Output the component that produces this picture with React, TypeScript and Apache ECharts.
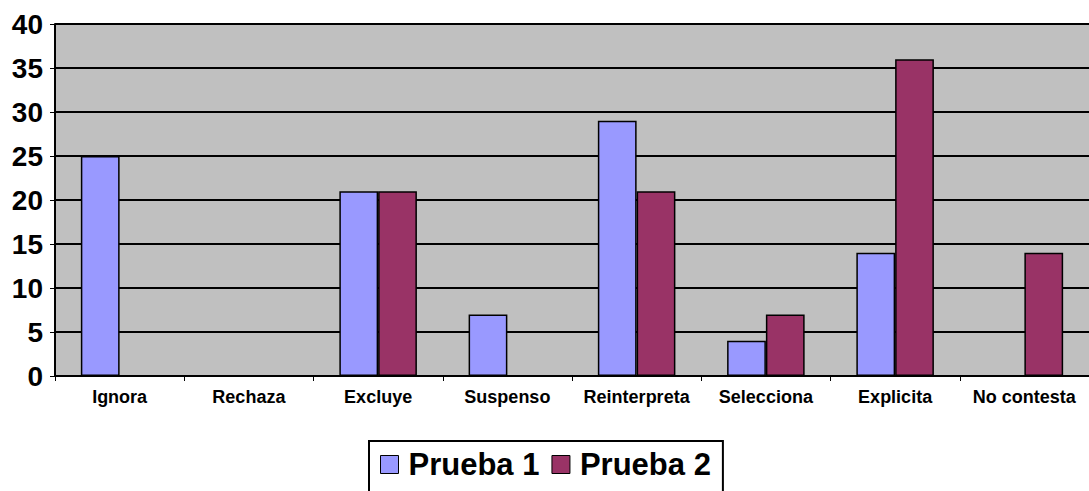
import React, { useEffect, useRef } from "react";
import * as echarts from "echarts";

const categories = ["Ignora", "Rechaza", "Excluye", "Suspenso", "Reinterpreta", "Selecciona", "Explicita", "No contesta"];
const prueba1 = [25, 0, 21, 7, 29, 4, 14, 0];
const prueba2 = [0, 0, 21, 0, 21, 7, 36, 14];
const seriesNames = ["Prueba 1", "Prueba 2"];

export default function App() {
  const ref = useRef<HTMLDivElement>(null);
  useEffect(() => {
    const chart = echarts.init(ref.current!, null, { renderer: "svg" });
    chart.setOption({
      animation: false,
      backgroundColor: "#ffffff",
      grid: { left: 55, right: 0, top: 24, bottom: 115, show: true, backgroundColor: "#C0C0C0", borderWidth: 0 },
      legend: {
        data: seriesNames,
        left: 369,
        top: 441,
        padding: [8, 12, 14, 11],
        borderColor: "#000",
        borderWidth: 2,
        itemWidth: 18,
        itemHeight: 18,
        itemGap: 12,
        icon: "rect",
        itemStyle: { borderColor: "#000", borderWidth: 1 },
        textStyle: { fontFamily: "Liberation Sans, Arial", fontWeight: "bold", fontSize: 31, color: "#000", padding: [0, 0, 0, 5] },
      },
      xAxis: {
        type: "category",
        data: categories,
        axisLine: { lineStyle: { color: "#000", width: 2 } },
        axisTick: { show: true, length: 5, lineStyle: { color: "#000", width: 1 } },
        axisLabel: { fontFamily: "Liberation Sans, Arial", fontWeight: "bold", fontSize: 18, color: "#000", margin: 12, interval: 0 },
      },
      yAxis: {
        type: "value",
        min: 0,
        max: 40,
        interval: 5,
        axisLine: { show: true, lineStyle: { color: "#000", width: 2 } },
        axisTick: { show: true, length: 5, lineStyle: { color: "#000", width: 1 } },
        axisLabel: { fontFamily: "Liberation Sans, Arial", fontWeight: "bold", fontSize: 28, color: "#000", margin: 12 },
        splitLine: { lineStyle: { color: "#000", width: 2 } },
      },
      series: [
        {
          name: seriesNames[0],
          type: "bar",
          data: prueba1,
          barGap: "0%",
          barCategoryGap: "40%",
          itemStyle: { color: "#9999FF", borderColor: "#000", borderWidth: 1.5 },
        },
        {
          name: seriesNames[1],
          type: "bar",
          data: prueba2,
          itemStyle: { color: "#993366", borderColor: "#000", borderWidth: 1.5 },
        },
      ],
    });
    return () => chart.dispose();
  }, []);
  return <div ref={ref} style={{ position: "fixed", left: 0, top: 0, width: 1089, height: 491 }} />;
}
